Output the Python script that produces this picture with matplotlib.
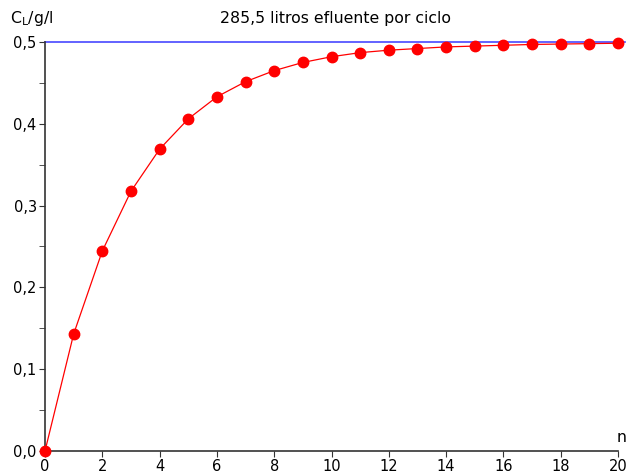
import matplotlib
matplotlib.use("Agg")
import matplotlib.pyplot as plt
from matplotlib.ticker import MultipleLocator, FuncFormatter

# concentration per cycle
n = list(range(0, 21))
c_l = [0.0, 0.143, 0.2445, 0.3175, 0.369, 0.406, 0.433, 0.4515, 0.465, 0.475,
       0.482, 0.487, 0.490, 0.492, 0.494, 0.495, 0.496, 0.497, 0.4975, 0.498, 0.4985]
limit = 0.5

title = "285,5 litros efluente por ciclo"

fig = plt.figure(figsize=(6.3, 4.73), dpi=100)
ax = fig.add_axes([45 / 630, 1 - 451 / 473, (618 - 45) / 630, (451 - 42) / 473])

ax.axhline(limit, color="#4848ff", lw=1.2, clip_on=False, xmax=1.012, zorder=2)
ax.plot(n, c_l, color="red", lw=0.9, marker="o", ms=7.5, clip_on=False, zorder=3)

ax.set_xlim(0, 20)
ax.set_ylim(0, 0.5)
ax.xaxis.set_major_locator(MultipleLocator(2))
ax.yaxis.set_major_locator(MultipleLocator(0.1))
ax.yaxis.set_minor_locator(MultipleLocator(0.05))
ax.yaxis.set_major_formatter(FuncFormatter(lambda v, p: f"{v:.1f}".replace(".", ",")))

for s in ("top", "right"):
    ax.spines[s].set_visible(False)
for s in ("left", "bottom"):
    ax.spines[s].set_color("#333333")
    ax.spines[s].set_linewidth(1.2)
ax.tick_params(axis="both", which="both", color="#333333", labelsize=10.5, pad=2)
ax.tick_params(which="major", length=4)
ax.tick_params(which="minor", length=4)

fig.text(10 / 630, 1 - 19 / 473, r"C$_\mathregular{L}$/g/l", fontsize=11.3, va="center", ha="left")
fig.text(336 / 630, 1 - 19 / 473, title, fontsize=11.3, va="center", ha="center")
fig.text(622 / 630, 1 - 437 / 473, "n", fontsize=11.3, va="center", ha="center")

fig.savefig("out.png", dpi=100)
